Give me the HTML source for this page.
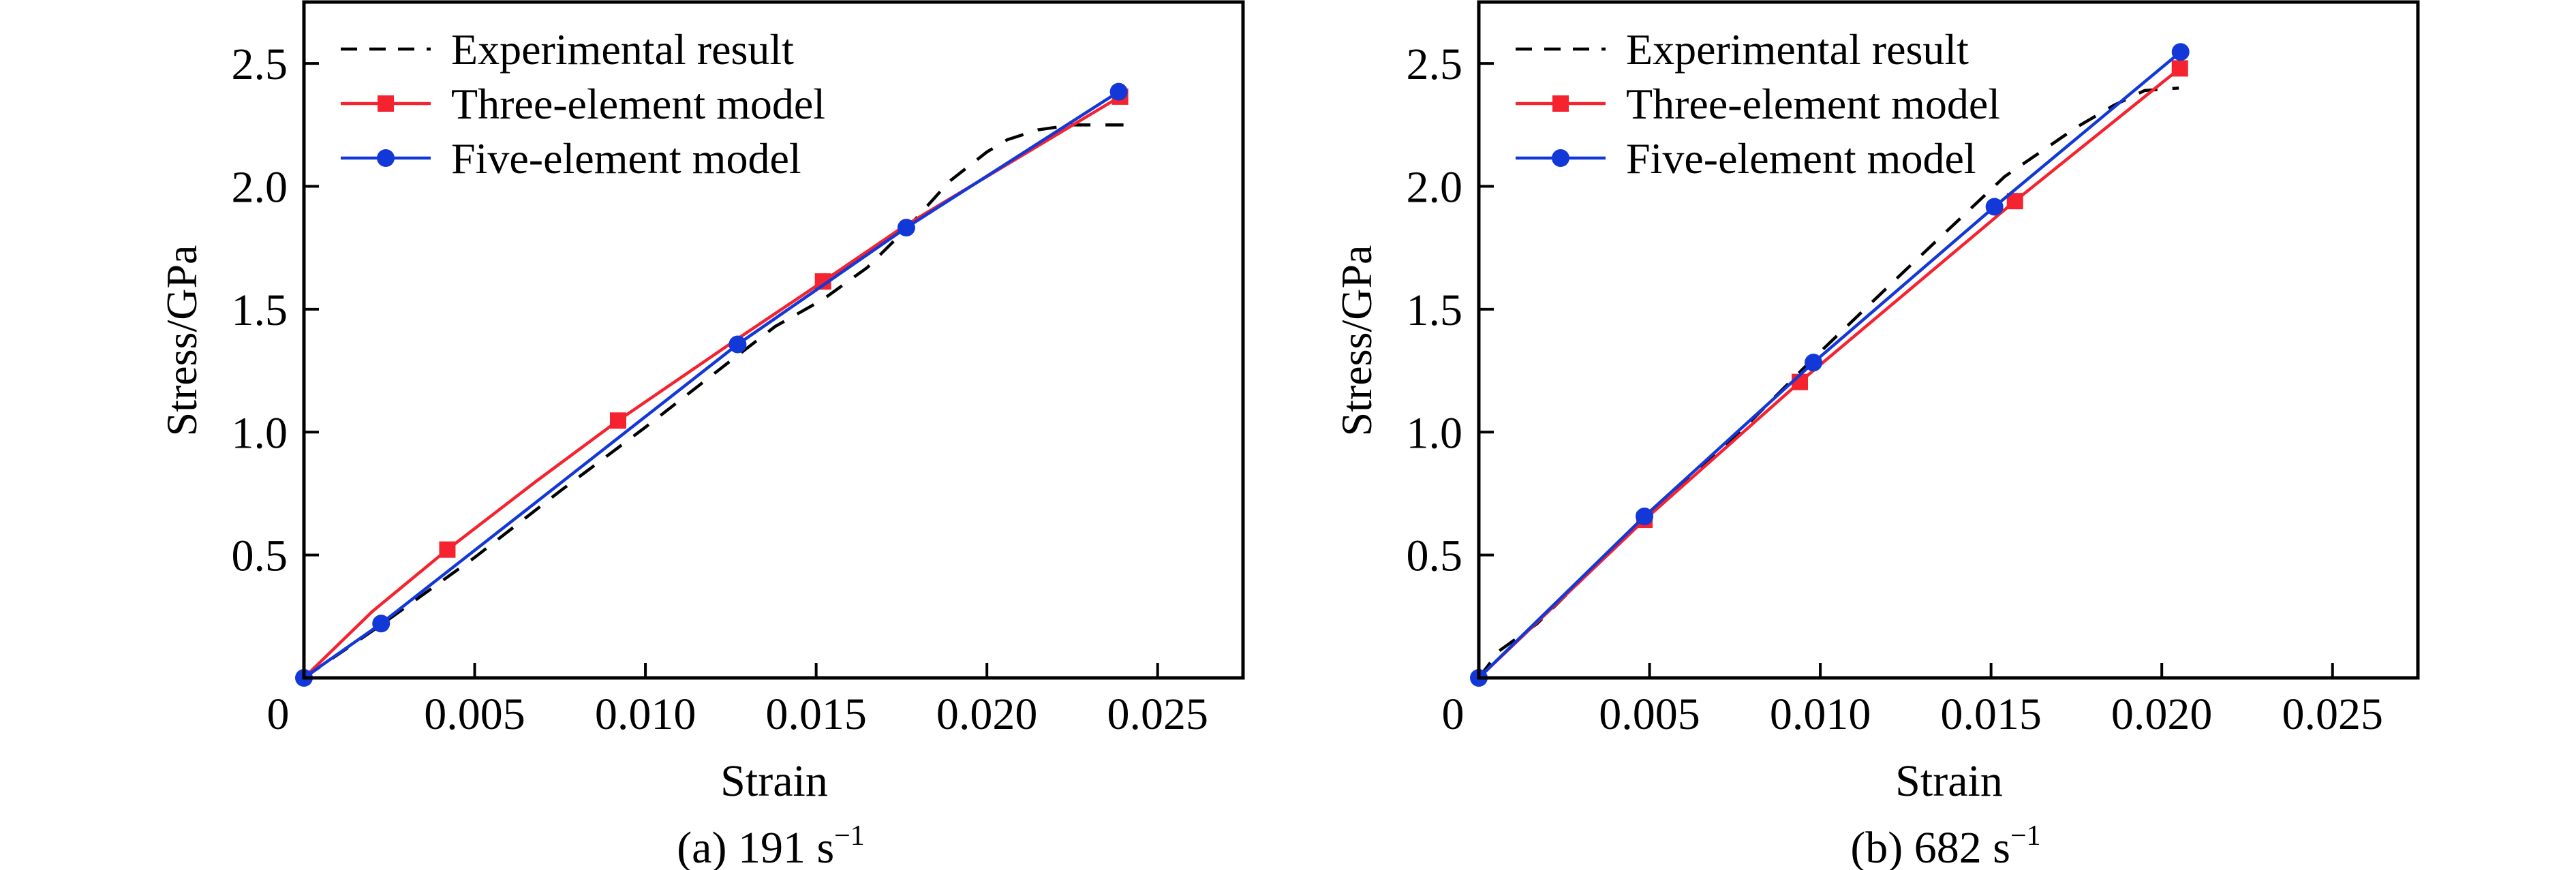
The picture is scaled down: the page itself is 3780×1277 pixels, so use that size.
<!DOCTYPE html>
<html><head><meta charset="utf-8"><style>
html,body{margin:0;padding:0;background:#fff;}
svg{display:block;font-family:"Liberation Serif","DejaVu Serif","Noto Serif CJK SC",serif;}
svg text{font-family:"Liberation Serif","DejaVu Serif","Noto Serif CJK SC",serif;fill:#000;}
</style></head><body>
<svg id="fig" width="3780" height="1277" viewBox="0 0 3780 1277" xmlns="http://www.w3.org/2000/svg"></svg>
<script>
// ---- Data ----
const xTicks = [0.005, 0.010, 0.015, 0.020, 0.025];
const xTickLabels = ["0.005", "0.010", "0.015", "0.020", "0.025"];
const yTicks = [0.5, 1.0, 1.5, 2.0, 2.5];
const yTickLabels = ["0.5", "1.0", "1.5", "2.0", "2.5"];
const legendLabels = ["Experimental result", "Three-element model", "Five-element model"];

// Panel (a) 191 s^-1
const aExpX = [0, 0.0022, 0.005, 0.0075, 0.010, 0.0124, 0.0138, 0.0152, 0.0165, 0.0178, 0.0189, 0.0200, 0.0206, 0.0215, 0.0225, 0.0240];
const aExpY = [0, 0.21, 0.49, 0.76, 1.02, 1.28, 1.43, 1.54, 1.67, 1.85, 2.02, 2.14, 2.19, 2.23, 2.25, 2.25];
const aThreeX = [0, 0.0020, 0.0042, 0.0068, 0.0092, 0.0127, 0.0152, 0.0176, 0.0239];
const aThreeY = [0, 0.27, 0.522, 0.80, 1.047, 1.38, 1.613, 1.84, 2.365];
const aThreeMarkX = [0.0042, 0.0092, 0.0152, 0.0239];
const aThreeMarkY = [0.522, 1.047, 1.613, 2.365];
const aFiveX = [0, 0.00226, 0.0127, 0.01764, 0.02386];
const aFiveY = [0, 0.221, 1.357, 1.832, 2.385];

// Panel (b) 682 s^-1
const bExpX = [0, 0.0006, 0.0017, 0.0025, 0.005, 0.0075, 0.0098, 0.0125, 0.0154, 0.0175, 0.0186, 0.0195, 0.0205];
const bExpY = [0, 0.11, 0.22, 0.33, 0.67, 0.98, 1.30, 1.66, 2.04, 2.24, 2.33, 2.39, 2.40];
const bThreeX = [0, 0.00485, 0.0094, 0.0157, 0.02053];
const bThreeY = [0, 0.643, 1.204, 1.94, 2.48];
const bThreeMarkX = [0.00485, 0.0094, 0.0157, 0.02053];
const bThreeMarkY = [0.643, 1.204, 1.94, 2.48];
const bFiveX = [0, 0.00485, 0.0098, 0.0151, 0.02055];
const bFiveY = [0, 0.657, 1.283, 1.917, 2.547];

const NS = "http://www.w3.org/2000/svg";
const svg = document.getElementById("fig");
function mk(tag, attrs, parent){
  const e = document.createElementNS(NS, tag);
  for (const k in attrs) e.setAttribute(k, attrs[k]);
  if (tag === "text") e.style.fontFamily = '"Liberation Serif", "DejaVu Serif", serif';
  (parent||svg).appendChild(e);
  return e;
}
const RED = "#f5222f", BLUE = "#1238d8";
const LW = 4.5;

function panel(id, left, expX, expY, thX, thY, thMX, thMY, fvX, fvY, caption){
  const W = 1378, top = 3, bottom = 995, xMax = 0.0275, yMax = 2.75;
  const sx = v => left + v / xMax * W;
  const sy = v => bottom - v / yMax * (bottom - top);
  const g = mk("g", {});
  
  

  xTicks.forEach((t, i) => {
    const tk = mk("line", {x1: sx(t), x2: sx(t), y1: bottom, y2: bottom - 22, stroke: "#000", "stroke-width": 4}, g);
    
    
    const tl = mk("text", {x: sx(t), y: 1070, "font-size": 66, "text-anchor": "middle"}, g);
    tl.textContent = xTickLabels[i];
    
    
  });
  const z = mk("text", {x: left - 38, y: 1070, "font-size": 66, "text-anchor": "middle"}, g);
  z.textContent = "0";
  
  
  yTicks.forEach((t, i) => {
    const tk = mk("line", {x1: left, x2: left + 22, y1: sy(t), y2: sy(t), stroke: "#000", "stroke-width": 4}, g);
    
    
    const tl = mk("text", {x: left - 24, y: sy(t) + 23, "font-size": 66, "text-anchor": "end"}, g);
    tl.textContent = yTickLabels[i];
    
    
  });

  const pts = (xs, ys) => xs.map((x, i) => sx(x) + "," + sy(ys[i])).join(" ");
  const exp = mk("polyline", {points: pts(expX, expY), fill: "none", stroke: "#000", "stroke-width": LW, "stroke-dasharray": "28,22"}, g);
  
  
  const th = mk("polyline", {points: pts(thX, thY), fill: "none", stroke: RED, "stroke-width": LW, "stroke-linejoin": "round"}, g);
  
  
  thMX.forEach((x, i) => {
    const m = mk("rect", {x: sx(x) - 12, y: sy(thMY[i]) - 12, width: 24, height: 24, fill: RED}, g);
    
    
  });
  const fv = mk("polyline", {points: pts(fvX, fvY), fill: "none", stroke: BLUE, "stroke-width": LW}, g);
  
  
  fvX.forEach((x, i) => {
    const m = mk("circle", {cx: sx(x), cy: sy(fvY[i]), r: 13, fill: BLUE}, g);
    
    
  });

  const fr = mk("rect", {x: left, y: top, width: W, height: bottom - top, fill: "none", stroke: "#000", "stroke-width": 5}, g);
  
  

  const lx = left + 54, tx = left + 216, rows = [72, 152, 232];
  const lg = mk("g", {}, g);
  
  
  const l1 = mk("line", {x1: lx, x2: lx + 132, y1: rows[0], y2: rows[0], stroke: "#000", "stroke-width": LW, "stroke-dasharray": "24,18"}, lg);
  
  
  const l2 = mk("line", {x1: lx, x2: lx + 132, y1: rows[1], y2: rows[1], stroke: RED, "stroke-width": LW}, lg);
  
  
  mk("rect", {x: lx + 54, y: rows[1] - 12, width: 24, height: 24, fill: RED}, lg);
  const l3 = mk("line", {x1: lx, x2: lx + 132, y1: rows[2], y2: rows[2], stroke: BLUE, "stroke-width": LW}, lg);
  
  
  mk("circle", {cx: lx + 66, cy: rows[2], r: 13, fill: BLUE}, lg);
  legendLabels.forEach((s, i) => {
    const t = mk("text", {x: tx, y: rows[i] + 22, "font-size": 64}, lg);
    t.textContent = s;
    
    
  });

  const xt = mk("text", {x: left + 690, y: 1168, "font-size": 66, "text-anchor": "middle"}, g);
  xt.textContent = "Strain";
  
  
  const yt = mk("text", {x: 0, y: 0, "font-size": 64, "text-anchor": "middle", transform: "translate(" + (left - 158) + ",500) rotate(-90)"}, g);
  yt.textContent = "Stress/GPa";
  
  
  const cp = mk("text", {x: left + 685, y: 1266, "font-size": 66, "text-anchor": "middle"}, g);
  cp.textContent = caption + " s";
  const sup = mk("tspan", {dy: -26, "font-size": 42}, cp);
  sup.textContent = "\u22121";
  
  
}
panel("a", 446, aExpX, aExpY, aThreeX, aThreeY, aThreeMarkX, aThreeMarkY, aFiveX, aFiveY, "(a) 191");
panel("b", 2170, bExpX, bExpY, bThreeX, bThreeY, bThreeMarkX, bThreeMarkY, bFiveX, bFiveY, "(b) 682");
</script>
</body></html>
